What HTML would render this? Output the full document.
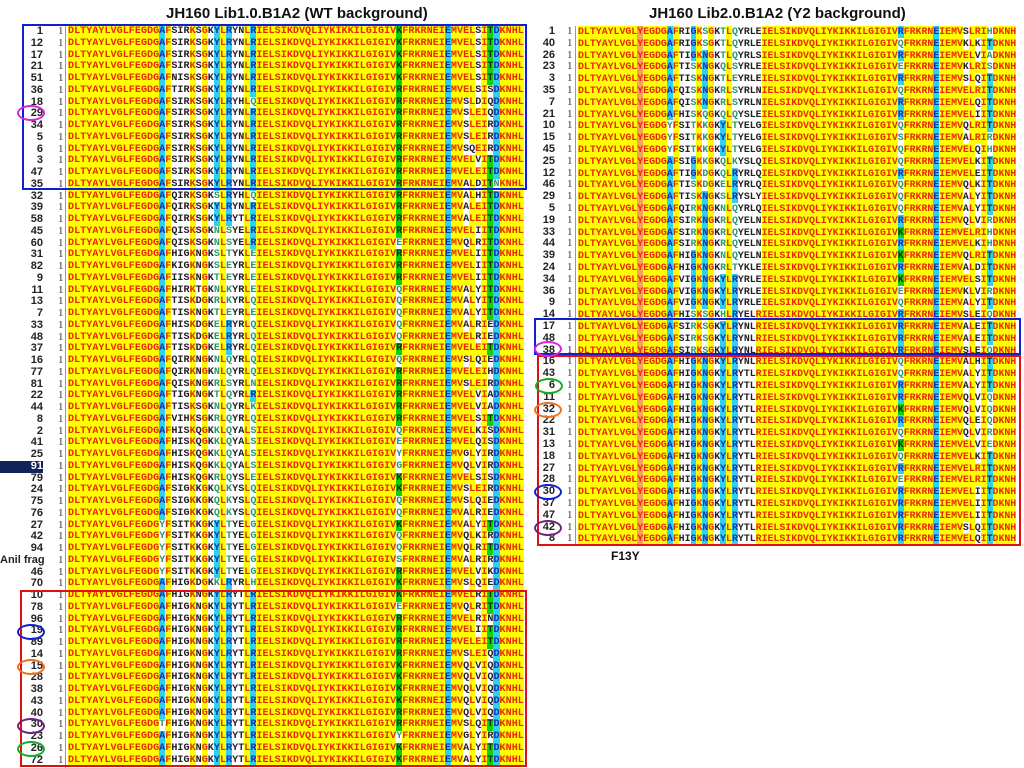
<!DOCTYPE html>
<html><head><meta charset="utf-8"><style>
body{margin:0;width:1024px;height:768px;background:#fff;position:relative;overflow:hidden;font-family:"Liberation Sans",sans-serif}
.t{position:absolute;font-weight:bold;font-size:15px;color:#111;white-space:nowrap}
.row{position:absolute;white-space:pre;font-family:"Liberation Mono",monospace;font-weight:bold}
.row span{display:inline-block;text-align:center}
.lab{position:absolute;font-weight:bold;font-size:11px;text-align:right;color:#222;white-space:nowrap}
.one{position:absolute;font-family:"Liberation Serif",serif;font-size:11px;color:#333}
.box{position:absolute;border:2px solid;box-sizing:border-box}
.ell{position:absolute;border:2.5px solid;border-radius:50%;box-sizing:border-box}
.vl{position:absolute;width:1px;background:#999}
</style></head><body>
<div class="t" style="left:166px;top:5px">JH160 Lib1.0.B1A2 (WT background)</div>
<div class="t" style="left:649px;top:5px">JH160 Lib2.0.B1A2 (Y2 background)</div>
<div class="t" style="left:611px;top:549px;font-size:12px">F13Y</div>
<div class="vl" style="left:65px;top:26px;height:742px"></div>
<div class="vl" style="left:575px;top:26px;height:520px"></div>
<div id="L"></div><div id="R"></div>
<div class="box" style="left:22px;top:24px;width:505px;height:166px;border-color:#1020d0"></div>
<div class="box" style="left:20px;top:590px;width:507px;height:177px;border-color:#e01010"></div>
<div class="box" style="left:534px;top:318px;width:487px;height:37px;border-color:#1020d0"></div>
<div class="box" style="left:537px;top:355px;width:484px;height:191px;border-color:#e01010"></div>
<div class="ell" style="left:17px;top:105px;width:28px;height:16px;border-color:#e020e0"></div>
<div class="ell" style="left:17px;top:624px;width:28px;height:16px;border-color:#1020d0"></div>
<div class="ell" style="left:17px;top:659px;width:28px;height:16px;border-color:#f07020"></div>
<div class="ell" style="left:17px;top:718px;width:28px;height:16px;border-color:#702080"></div>
<div class="ell" style="left:17px;top:741px;width:28px;height:16px;border-color:#10b020"></div>
<div class="ell" style="left:534px;top:341px;width:28px;height:16px;border-color:#e020e0"></div>
<div class="ell" style="left:535px;top:378px;width:28px;height:16px;border-color:#10b020"></div>
<div class="ell" style="left:534px;top:402px;width:28px;height:16px;border-color:#f07020"></div>
<div class="ell" style="left:534px;top:484px;width:28px;height:16px;border-color:#1020d0"></div>
<div class="ell" style="left:534px;top:520px;width:28px;height:16px;border-color:#702080"></div>
<script>
const leftLabels=["1","12","17","21","51","36","18","29","34","5","6","3","47","35","32","39","58","45","60","31","82","9","11","13","7","33","48","37","16","77","81","22","44","8","2","41","25","91","79","24","75","76","27","42","94","Anil frag","46","70","10","78","96","19","89","14","15","28","38","43","40","30","23","26","72"];
const leftMid=["AFSIRKSGKYLRYNLR","AFSIRKSGKYLRYNLR","AFSIRKSGKYLRYNLR","AFSIRKSGKYLRYNLR","AFNISKSGKYLRYNLR","AFTIRKSGKYLRYNLR","AFSIRKSGKYLRYHLQ","AFSIRKSGKYLRYNLR","AFSIRKSGKYLRYNLR","AFSIRKSGKYLRYNLR","AFSIRKSGKYLRYNLR","AFSIRKSGKYLRYNLR","AFSIRKSGKYLRYNLR","AFSIRKSGKYLRYNLR",
"AFQIRKSGKSLRYHLQ","AFQIRKSGKYLRYNLR","AFQIRKSGKYLRYTLR","AFQISKSGKNLSYELR","AFQISKSGKNLSYELR","AFHIGKNGKSLTYKLE","AFKIGKNGKSLEYRLE","AFIISKNGKTLEYRLE","AFHIRKTGKNLKYRLE","AFTISKDGKRLKYRLQ","AFTISKNGKTLEYRLE","AFHISKDGKELRYRLQ","AFTISKDGKELRYRLQ","AFTISKDGKELRYRLQ","AFQIRKNGKNLQYRLQ","AFQIRKNGKNLQYRLQ","AFQISKNGKRLSYRLN","AFTIGKNGKTLQYRLR","AFTISKSGKNLQYRLK","AFVIHKSGKRLQYRLQ","AFHISKQGKKLQYALS","AFHISKQGKKLQYALS","AFHISKQGKKLQYALS","AFHISKQGKKLQYALS","AFHISKQGKRLQYSLE","AFSIGKKGKQLKYSLQ","AFSIGKKGKQLKYSLQ","AFSIGKKGKQLKYSLQ","YFSITKKGKYLTYELG","YFSITKKGKYLTYELG","YFSITKKGKYLTYELG","YFSITKKGKYLTYELG","YFSITKKGKYLTYELG","AFHIGKDGKKLRYRLH",
"AFHIGKNGKYLRYTLR","AFHIGKNGKYLRYTLR","AFHIGKNGKYLRYTLR","AFHIGKNGKYLRYTLR","AFHIGKNGKYLRYTLR","AFHIGKNGKYLRYTLR","AFHIGKNGKYLRYTLR","AFHIGKNGKYLRYTLR","AFHIGKNGKYLRYTLR","AFHIGKNGKYLRYTLR","AFHIGKNGKYLRYTLR","TFHIGKNGKYLRYTLR","AFHIGKNGKYLRYTLR","AFHIGKNGKYLRYTLR","AFHIGKNGKYLRYTLR"];
const leftX=["K","K","K","K","K","R","R","R","R","R","R","R","R","R",
"R","R","R","R","E","R","R","R","Q","Q","Q","Q","Q","R","Q","R","R","R","R","R","Q","E","Y","G","K","K","Q","Q","K","Q","Q","S","R","K",
"K","E","R","R","R","R","K","K","K","K","R","R","Y","K","K"];
const leftTail=["ELSITD","ELSITD","ELSITD","ELSITD","ELSITD","ELSISD","SLDIQD","SLEIQD","SLEIRD","SLEIRD","SQEIRD","ELVITD","ELEITD","ALDITN","ALHITD","ALEITD","ALEITD","ELIITD","QLRITD","ELIITD","ELIITD","ELIITD","ALYITD","ALYITD","ALYITD","ALRIED","ELRIED","ELEITD","SLQIED","ELEIHD","SLEIRD","ELVIAD","ELVIAD","ELSITD","ELKISD","ELQISD","GLYIRD","QLVIRD","ELSISD","SLEIRD","SLQIED","ALRIED","ALYITD","QLKIRD","QLRITD","ALRIRD","ELVIKD","SLQIED","ELRITD","QLRITD","ELRIND","ELIITD","ELEITD","SLEIQD","QLVIQD","QLVIQD","QLVIQD","QLVIQD","QLVIQD","SLQITD","GLYIRD","ALYITD","ALYITD"];
const rightLabels=["1","40","26","23","3","35","7","21","10","15","45","25","12","46","29","5","19","33","44","39","24","34","36","9","14","17","48","38","16","43","6","11","32","22","31","13","18","27","28","30","37","47","42","8"];
const rightMid=["AFRIGKSGKTLQYRLE","AFRIGKSGKTLQYRLE","AFTIGKNGKTLQYRLS","AFTISKNGKQLSYRLE","AFTISKNGKTLEYRLE","AFQISKNGKRLSYRLN","AFQISKNGKRLSYRLN","AFHISKQGKQLQYSLE","YFSITKKGKYLTYELG","YFSITKKGKYLTYELG","YFSITKKGKYLTYELG","AFSIGKKGKQLKYSLQ","AFTIGKDGKQLRYRLQ","AFTISKDGKELRYRLQ","AFTISKNGKSLRYSLY","AFQIRKNGKNLQYRLQ","AFSIRKNGKRLQYELN","AFSIRKNGKRLQYELN","AFSIRKNGKRLQYELN","AFHIGKNGKNLQYELN","AFHIGKNGKRLTYKLE","AFVIGKNGKYLRYRLE","AFVIGKNGKYLRYRLE","AFVIGKNGKYLRYRLE","AFHISKSGKHLRYELR","AFSIRKSGKYLRYNLR","AFSIRKSGKYLRYNLR","AFSIRKSGKYLRYNLR","AFHIGKNGKYLRYNLR","AFHIGKNGKYLRYTLR","AFHIGKNGKYLRYTLR","AFHIGKNGKYLRYTLR","AFHIGKNGKYLRYTLR","AFHIGKNGKYLRYTLR","AFHIGKNGKYLRYTLR","AFHIGKNGKYLRYTLR","AFHIGKNGKYLRYTLR","AFHIGKNGKYLRYTLR","AFHIGKNGKYLRYTLR","AFHIGKNGKYLRYTLR","AFHIGKNGKYLRYTLR","AFHIGKNGKYLRYTLR","AFHIGKNGKYLRYTLR","AFHIGKNGKYLRYTLR"];
const rightX=["R","Q","R","E","R","Q","R","R","Q","S","Q","Q","R","Q","Q","Q","R","K","R","K","R","K","E","Q","R",
"R","R","R","Q","Q","R","R","K","R","Q","K","Q","R","E","R","R","R","R","R"];
const rightTail=["SLRIHD","KLKITD","ELVIAD","KLRISD","SLQITD","ELRITD","ELQITD","ELIITD","QLRITD","ALRIRD","ELQIHD","ELKITD","ELEITD","QLKITD","ALYITD","ALYITD","QLVIRD","ELRIHD","ELKIHD","QLRITD","ALDITD","ELSITD","KLVIRD","ALYITD","SLEIQD","ALEITD","ALEITD","SLEIQD","ALHITD","ALYITD","ALYITD","QLVIQD","QLVIQD","QLEIQD","QLVIRD","ELVIED","ELKITD","ELRITD","ELRITD","ELIITD","ELIITD","ELIITD","SLQITD","ELQITD"];
const COMMON="IELSIKDVQLIYKIKKILGIGIV", MIDC="FRKRNEIEMV";
function build(id,labels,mid,X,tail,pre,end,o){
  const host=document.getElementById(id);
  const seqs=labels.map((l,i)=>pre+mid[i]+COMMON+X[i]+MIDC+tail[i]+end);
  const n=seqs[0].length, cons=[];
  for(let c=0;c<n;c++){const cnt={};seqs.forEach(s=>cnt[s[c]]=(cnt[s[c]]||0)+1);cons.push(Object.keys(cnt).sort((a,b)=>cnt[b]-cnt[a])[0]);}
  seqs.forEach((s,i)=>{
    const y=o.y0+i*o.h;
    const lab=document.createElement('div');lab.className='lab';
    
    
    lab.style.cssText=`left:${o.lx}px;width:${o.lw}px;top:${y}px;line-height:${o.h}px`;
    lab.textContent=labels[i];
    if(o.hl&&labels[i]===o.hl){lab.style.left='0px';lab.style.width=(o.lx+o.lw)+'px';lab.style.background='#10245a';lab.style.color='#fff';}
    host.appendChild(lab);
    const one=document.createElement('div');one.className='one';
    
    
    one.style.cssText=`left:${o.ox}px;top:${y}px;line-height:${o.h}px`;one.textContent='1';host.appendChild(one);
    const r=document.createElement('div');r.className='row';
    
    
    r.style.cssText=`left:${o.sx}px;top:${y}px;font-size:${o.fs}px;line-height:${o.h}px`;
    let html='';
    for(let c=0;c<n;c++){
      const ch=s[c];let bg='#ffff00',col='#e82a00';
      if(o.orange.includes(c)){bg='#f8a060';}
      else if(c===54){ if(ch==='K'){bg='#10d010';col='#0a3a0a';} else if(ch==='R'){bg=o.rx;col=o.rx==='#30d0f0'?'#1030b0':'#0a3a0a';} else {bg='#fff';col='#2a9a6a';} }
      else if(o.cyan.includes(c)){ if(ch===cons[c]){bg='#30d0f0';col='#1030b0';} else {bg='#fff';col='#2a9a6a';} }
      else if(o.white.includes(c)){bg='#fff';col='#222';}
      else if(ch!==cons[c]){bg='#fff';col='#222';}
      if(c===69&&ch==='T'){bg=o.tcol;col='#103010';}
      html+=`<span style="width:${o.cw}px;background:${bg};color:${col};height:${o.h}px">${ch}</span>`;
    }
    r.innerHTML=html;host.appendChild(r);
  });
}
build('L',leftLabels,leftMid,leftX,leftTail,"DLTYAYLVGLFEGDG","KNHL",
 {y0:26,h:11.75,lx:0,lw:43,ox:58,sx:68,fs:10.1,cw:6.08,cyan:[15,24,26,30,62,70],white:[17,18,19,21,23,27,28],orange:[],rx:'#10d010',tcol:'#10d010',hl:'91'});
build('R',rightLabels,rightMid,rightX,rightTail,"DLTYAYLVGLYEGDG","KNH",
 {y0:26,h:11.8,lx:530,lw:25,ox:567,sx:578,fs:9.9,cw:5.93,cyan:[15,19,21,24,26,60,69],white:[17,18,23,27,28,29],orange:[10],rx:'#30d0f0',tcol:'#30d0f0'});
</script>
</body></html>
